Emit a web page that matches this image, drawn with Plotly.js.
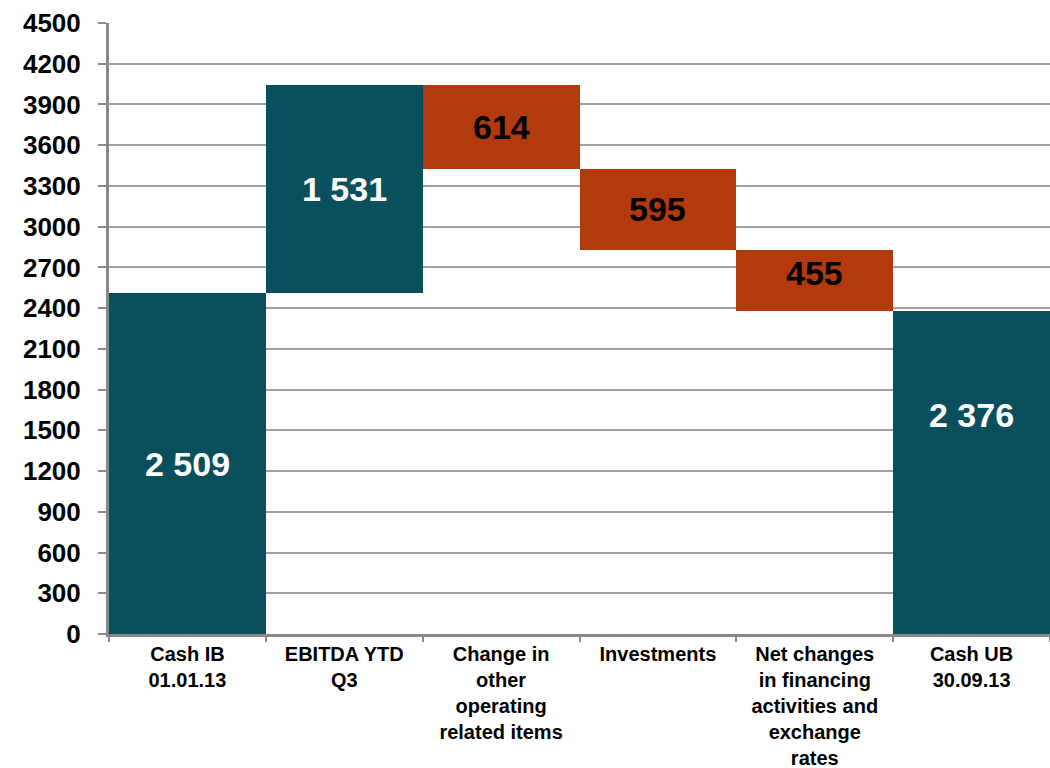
<!DOCTYPE html>
<html>
<head>
<meta charset="utf-8">
<script src="https://cdn.plot.ly/plotly-3.0.1.min.js"></script>
<style>
  html, body { margin: 0; padding: 0; background: #fff; }
  #chart { width: 1050px; height: 768px; }
</style>
</head>
<body>
<div id="chart"></div>
<script>
// ── Data ──────────────────────────────────────────────────────────────────────

const categories = [
  'Cash IB<br>01.01.13',
  'EBITDA YTD<br>Q3',
  'Change in<br>other<br>operating<br>related items',
  'Investments',
  'Net changes<br>in financing<br>activities and<br>exchange<br>rates',
  'Cash UB<br>30.09.13',
];
const steps    = [2509, 1531, -614, -595, -455, 2376];
const measures = ['absolute', 'relative', 'relative', 'relative', 'relative', 'total'];
const labels   = ['2 509', '1 531', '614', '595', '455', '2 376'];
const yTicks   = [0, 300, 600, 900, 1200, 1500, 1800, 2100, 2400, 2700, 3000, 3300, 3600, 3900, 4200, 4500];

// ── Colours / fonts ───────────────────────────────────────────────────────────

const TEAL   = '#0a4f5c';
const ORANGE = '#b23a0c';
const FONT   = 'Liberation Sans, Arial, sans-serif';

// ── Build floating bars (base + height) ───────────────────────────────────────

let running = 0;
const bases = [], heights = [], colors = [], textColors = [];
steps.forEach((v, i) => {
  if (measures[i] === 'relative') {
    const lo = v >= 0 ? running : running + v;
    bases.push(lo); heights.push(Math.abs(v));
    running += v;
    colors.push(v >= 0 ? TEAL : ORANGE);
    textColors.push(v >= 0 ? '#fff' : '#000');
  } else {
    bases.push(0); heights.push(v);
    running = v;
    colors.push(TEAL);
    textColors.push('#fff');
  }
});

// label sits mid-bar, except the closing total which the original drew higher
const labelFrac = [0.5, 0.5, 0.5, 0.5, 0.62, 0.68];
const annotations = labels.map((t, i) => ({
  x: categories[i], y: bases[i] + heights[i] * labelFrac[i],
  xref: 'x', yref: 'y', text: t, showarrow: false,
  font: { family: FONT, size: 34, color: textColors[i], weight: 'bold' },
}));

const trace = {
  type: 'bar', x: categories, y: heights, base: bases,
  marker: { color: colors, line: { width: 0 } },
  hoverinfo: 'skip',
};

const layout = {
  width: 1050, height: 768,
  margin: { l: 109, r: 0, t: 23, b: 134 },
  paper_bgcolor: '#fff', plot_bgcolor: '#fff',
  font: { family: FONT, color: '#000' },
  bargap: 0,
  showlegend: false,
  xaxis: {
    type: 'category',
    tickson: 'boundaries', ticks: 'outside', ticklen: 5, tickcolor: '#888', tickwidth: 2,
    showline: true, linecolor: '#888', linewidth: 3,
    tickfont: { family: FONT, size: 20, color: '#000', weight: 'bold' },
    showgrid: false, fixedrange: true,
  },
  yaxis: {
    range: [0, 4500], tickvals: yTicks,
    ticks: 'outside', ticklen: 8, tickcolor: '#888', tickwidth: 2,
    ticklabelstandoff: 12,
    showline: true, linecolor: '#888', linewidth: 3,
    gridcolor: '#a0a0a0', gridwidth: 2,
    zeroline: false,
    tickfont: { family: FONT, size: 26, color: '#000', weight: 'bold' },
  },
  annotations,
};

Plotly.newPlot('chart', [trace], layout, { displayModeBar: false, staticPlot: true });
</script>
</body>
</html>
